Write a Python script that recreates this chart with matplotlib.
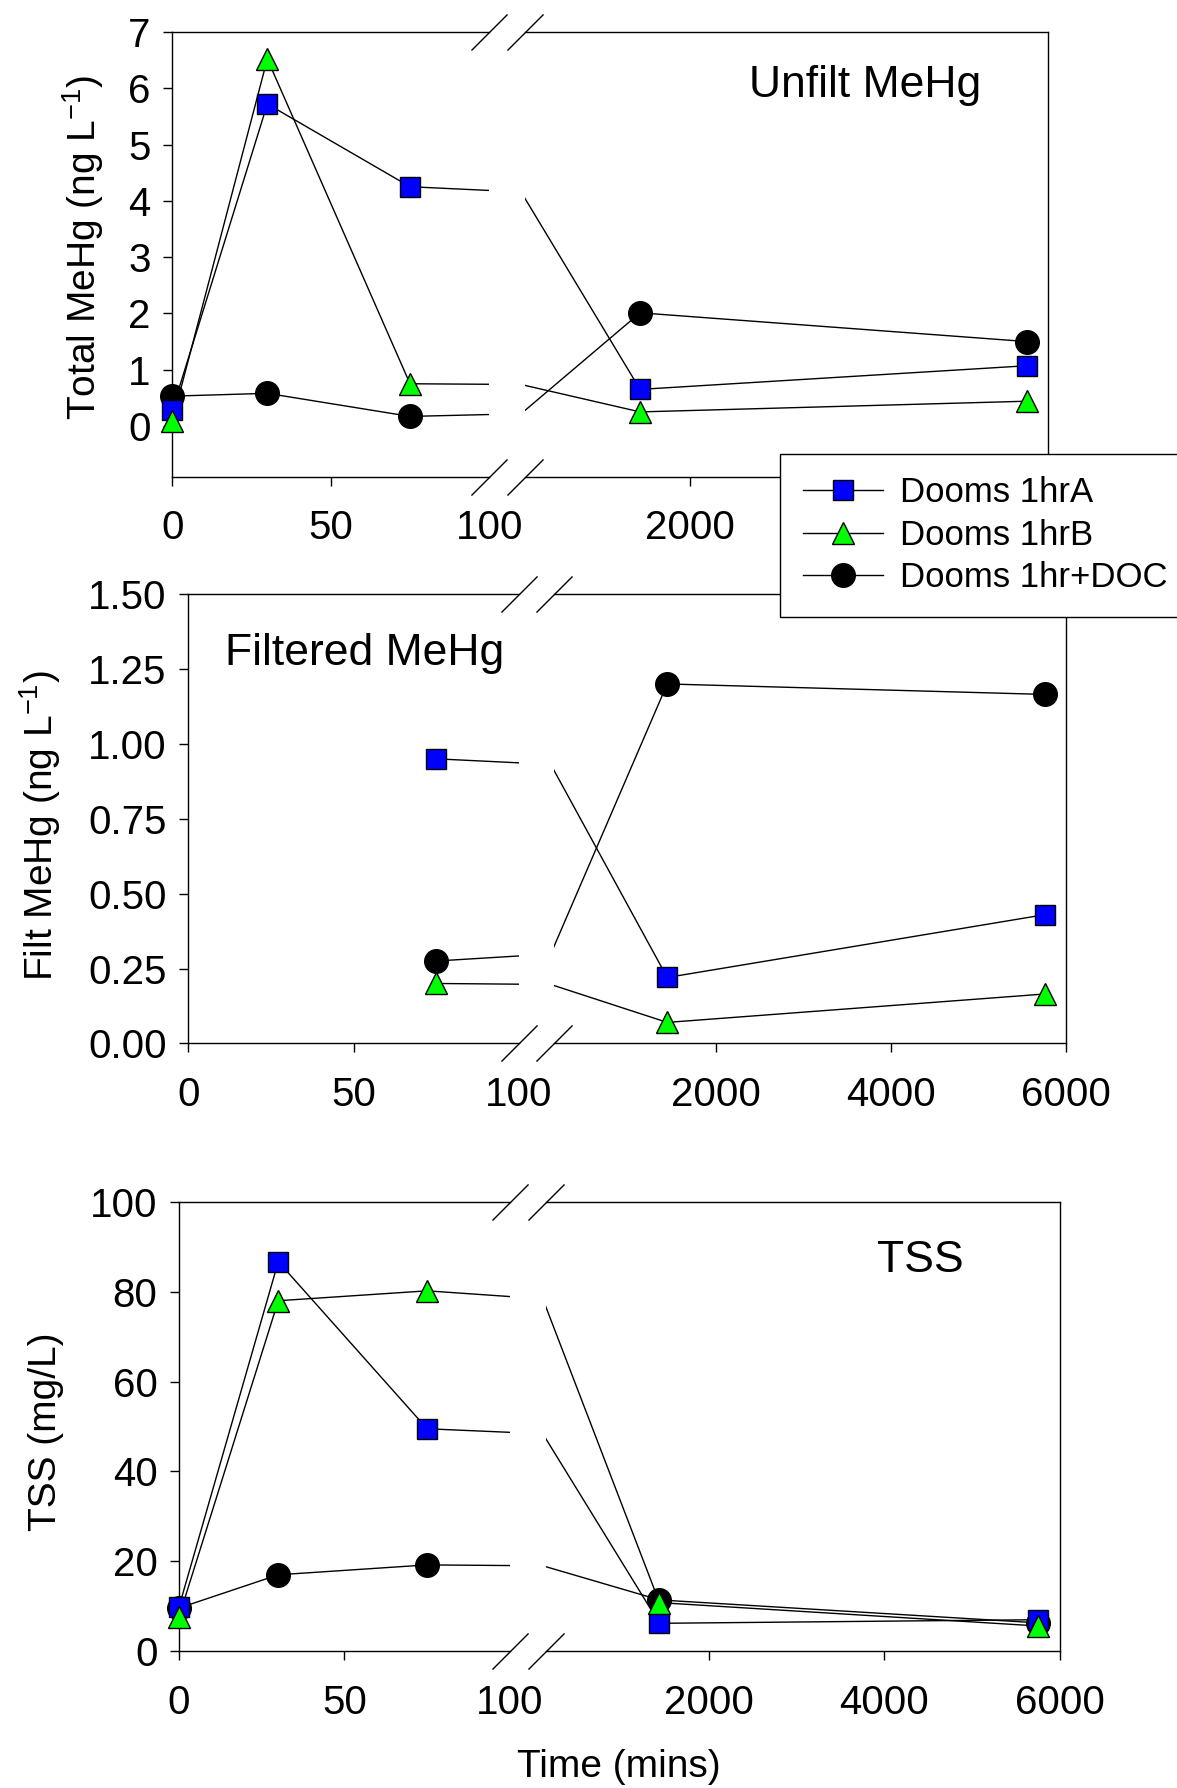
import numpy as np
import matplotlib
matplotlib.use('Agg')
import matplotlib.pyplot as plt
from matplotlib.lines import Line2D

plt.rcParams['font.family'] = ['Liberation Sans', 'DejaVu Sans']
plt.rcParams['mathtext.fontset'] = 'custom'
plt.rcParams['mathtext.rm'] = 'Liberation Sans'
plt.rcParams['mathtext.it'] = 'Liberation Sans'

# sampling times (mins)
time = [0, 30, 75, 1440, 5760]
time_filt = [75, 1440, 5760]

series_names = ['Dooms 1hrA', 'Dooms 1hrB', 'Dooms 1hr+DOC']

# Unfiltered (total) MeHg, ng/L
unfilt_a = [0.28, 5.72, 4.25, 0.65, 1.07]
unfilt_b = [0.08, 6.52, 0.75, 0.25, 0.44]
unfilt_doc = [0.53, 0.58, 0.17, 2.01, 1.50]

# Filtered MeHg, ng/L
filt_a = [0.95, 0.22, 0.43]
filt_b = [0.20, 0.07, 0.165]
filt_doc = [0.275, 1.20, 1.165]

# TSS, mg/L
tss_a = [9.9, 86.7, 49.5, 6.2, 7.0]
tss_b = [7.7, 78.0, 80.2, 10.8, 5.6]
tss_doc = [9.6, 17.0, 19.2, 11.4, 6.3]

styles = [
    dict(marker='s', mfc='#0000ff', ms=14, zorder=4),
    dict(marker='^', mfc='#00ff00', ms=16, zorder=5),
    dict(marker='o', mfc='black', ms=17, zorder=3),
]

W, H = 1032.0, 1568.0   # layout measured on the reference
BREAK_LO, BREAK_HI = 100, 150
FS_TICK = 29


def rect(x0, x1, y0, y1):
    return [x0 / W, 1 - y1 / H, (x1 - x0) / W, (y1 - y0) / H]


def draw_panel(fig, xl, xr, yy, ylim, yticks, yfmt, t, data, right_labels):
    axL = fig.add_axes(rect(xl[0], xl[1], yy[0], yy[1]))
    axR = fig.add_axes(rect(xr[0], xr[1], yy[0], yy[1]), sharey=axL)
    axL.set_xlim(0, BREAK_LO)
    axR.set_xlim(BREAK_HI, 6000)
    axL.set_ylim(*ylim)

    t = np.array(t)
    for vals, st in zip(data, styles):
        v = np.array(vals)
        for ax in (axL, axR):
            ax.plot(t, v, color='black', lw=1.0, zorder=2)
        m = t <= BREAK_LO
        axL.plot(t[m], v[m], ls='none', marker=st['marker'], mfc=st['mfc'],
                 mec='black', mew=1.0, ms=st['ms'], zorder=st['zorder'], clip_on=False)
        m = t >= BREAK_HI
        axR.plot(t[m], v[m], ls='none', marker=st['marker'], mfc=st['mfc'],
                 mec='black', mew=1.0, ms=st['ms'], zorder=st['zorder'], clip_on=False)

    axL.spines['right'].set_visible(False)
    axR.spines['left'].set_visible(False)
    for ax in (axL, axR):
        for s in ax.spines.values():
            s.set_linewidth(1.0)
        ax.tick_params(axis='x', direction='out', length=6.5, width=1.0,
                       labelsize=FS_TICK, pad=17)
        ax.tick_params(axis='y', direction='out', length=6.5, width=1.0,
                       labelsize=FS_TICK, pad=9)
    axR.tick_params(axis='y', left=False, labelleft=False)

    axL.set_xticks([0, 50, 100])
    axL.xaxis.get_major_ticks()[2].tick1line.set_visible(False)
    axR.set_xticks([2000, 4000, 6000])
    axR.set_xticklabels(right_labels)
    axL.set_yticks(yticks)
    axL.set_yticklabels([yfmt.format(y) for y in yticks])

    # break marks
    brk = dict(marker=[(-1, -1), (1, 1)], ms=26, mec='black', mew=1.0,
               ls='none', clip_on=False, zorder=6)
    axL.plot([1, 1], [0, 1], transform=axL.transAxes, **brk)
    axR.plot([0, 0], [0, 1], transform=axR.transAxes, **brk)
    return axL, axR


fig = plt.figure(figsize=(11.77, 17.88), dpi=100)

# 4000 / 6000 labels of the top panel sit under the legend
draw_panel(fig, (151, 429), (460, 919), (28, 418), (-0.9, 7), list(range(0, 8)), '{:d}',
           time, [unfilt_a, unfilt_b, unfilt_doc], ['2000', '', ''])
draw_panel(fig, (165, 455), (486, 935), (521, 915), (0, 1.5),
           [0, 0.25, 0.5, 0.75, 1.0, 1.25, 1.5], '{:.2f}',
           time_filt, [filt_a, filt_b, filt_doc], ['2000', '4000', '6000'])
draw_panel(fig, (157, 447), (479, 929), (1054, 1448), (0, 100), list(range(0, 101, 20)), '{:d}',
           time, [tss_a, tss_b, tss_doc], ['2000', '4000', '6000'])

# axis titles
FS_LAB = 28
fig.text(73 / W, 1 - 217 / H, 'Total MeHg (ng L$^{\\mathregular{-1}}$)', rotation=90,
         ha='center', va='center', fontsize=FS_LAB)
fig.text(35 / W, 1 - 724 / H, 'Filt MeHg (ng L$^{\\mathregular{-1}}$)', rotation=90,
         ha='center', va='center', fontsize=FS_LAB)
fig.text(40 / W, 1 - 1256 / H, 'TSS (mg/L)', rotation=90,
         ha='center', va='center', fontsize=FS_LAB)
fig.text(543 / W, 1 - 1550 / H, 'Time (mins)', ha='center', va='center', fontsize=FS_LAB)

# panel titles
fig.text(657 / W, 1 - 75 / H, 'Unfilt MeHg', ha='left', va='center', fontsize=32)
fig.text(197 / W, 1 - 573 / H, 'Filtered MeHg', ha='left', va='center', fontsize=32)
fig.text(769 / W, 1 - 1105 / H, 'TSS', ha='left', va='center', fontsize=32)

handles = [Line2D([], [], color='black', lw=1.0, marker=st['marker'], mfc=st['mfc'],
                  mec='black', mew=1.0, ms=st['ms']) for st in styles]
leg = fig.legend(handles, series_names, loc='upper left',
                 bbox_to_anchor=(684 / W, 1 - 398 / H), frameon=True, fancybox=False,
                 edgecolor='black', framealpha=1, fontsize=25, borderpad=0.65,
                 handlelength=2.3, handletextpad=0.5, labelspacing=0.27,
                 borderaxespad=0, numpoints=1)
leg.get_frame().set_linewidth(1.0)
leg.set_zorder(10)

fig.savefig('out.png', dpi=100)
